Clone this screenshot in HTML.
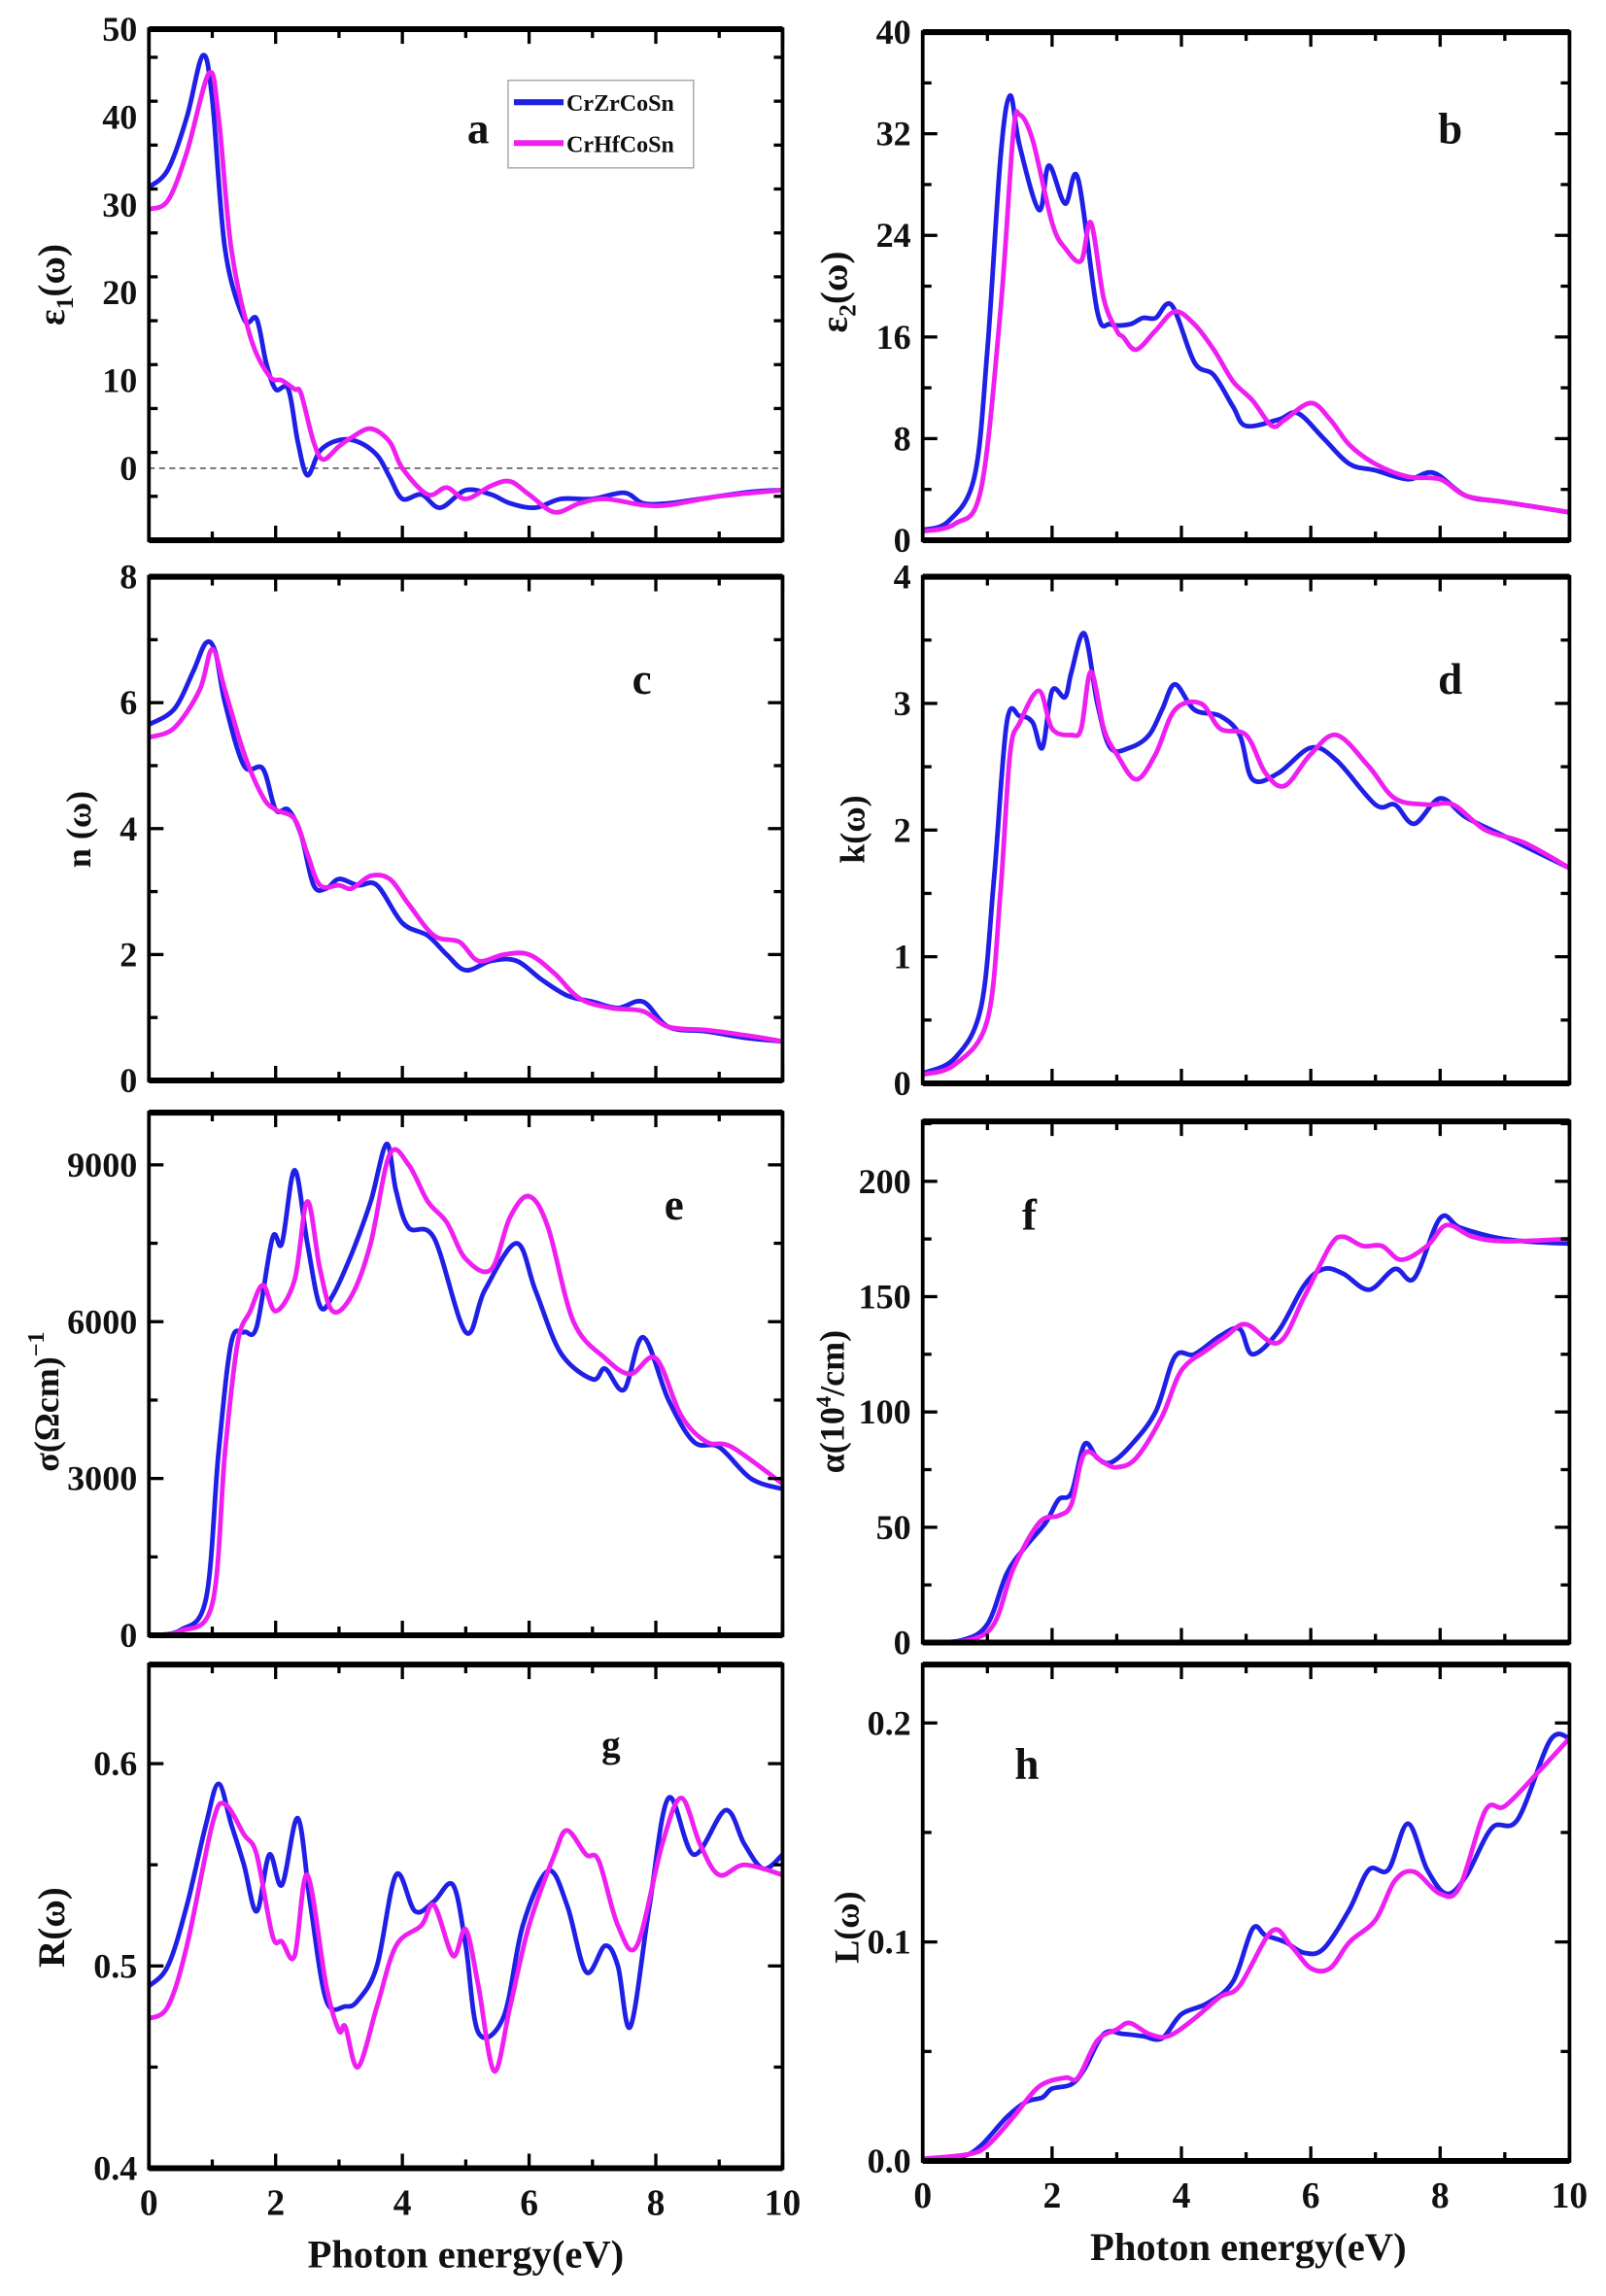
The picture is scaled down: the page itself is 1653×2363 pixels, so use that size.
<!DOCTYPE html>
<html><head><meta charset="utf-8"><style>
html,body{margin:0;padding:0;background:#fff}
svg{display:block}
text{font-family:"Liberation Serif",serif;font-weight:bold;fill:#111}
</style></head><body>
<svg id="s" width="1653" height="2363" viewBox="0 0 1100 1572.5" preserveAspectRatio="none" xmlns="http://www.w3.org/2000/svg"></svg>
<script>
const S=document.getElementById('s');let h='';
function P(L,R,T,B,y0,y1){return{L,R,T,B,y0,y1,x:v=>L+(R-L)*v/10,y:v=>B-(B-T)*(v-y0)/(y1-y0)};}
function path(p,d,c){const pts=d.map(q=>[p.x(q[0]),p.y(q[1])]);let s='M'+pts[0][0].toFixed(1)+' '+pts[0][1].toFixed(1);
for(let i=0;i<pts.length-1;i++){const p0=pts[i-1]||pts[i],p1=pts[i],p2=pts[i+1],p3=pts[i+2]||p2;
const c1=[p1[0]+(p2[0]-p0[0])/6,p1[1]+(p2[1]-p0[1])/6],c2=[p2[0]-(p3[0]-p1[0])/6,p2[1]-(p3[1]-p1[1])/6];
s+=`C${c1[0].toFixed(1)} ${c1[1].toFixed(1)} ${c2[0].toFixed(1)} ${c2[1].toFixed(1)} ${p2[0].toFixed(1)} ${p2[1].toFixed(1)}`;}
h+=`<path d="${s}" fill="none" stroke="${c}" stroke-width="3.2" stroke-linejoin="round"/>`;}
function frame(p,maj,mn,lab,xl){
 for(let v=0;v<=10;v+=1){const x=p.x(v),l=v%2==0?10:6;h+=`<line x1="${x}" y1="${p.B}" x2="${x}" y2="${p.B-l}" stroke="#000" stroke-width="2.2"/><line x1="${x}" y1="${p.T}" x2="${x}" y2="${p.T+l}" stroke="#000" stroke-width="2.2"/>`;
 if(xl&&v%2==0)h+=`<text x="${x}" y="${p.B+32}" font-size="25" text-anchor="middle">${v}</text>`;}
 for(let v=p.y0;v<=p.y1+1e-9;v+=mn){const y=p.y(v);if(y<p.T-1)continue;const isM=Math.abs(v/maj-Math.round(v/maj))<1e-6;const l=isM?10:6;
 h+=`<line x1="${p.L}" y1="${y}" x2="${p.L+l}" y2="${y}" stroke="#000" stroke-width="2.2"/><line x1="${p.R}" y1="${y}" x2="${p.R-l}" y2="${y}" stroke="#000" stroke-width="2.2"/>`;}
 lab.forEach(t=>{h+=`<text x="${p.L-8}" y="${p.y(t[0])+8}" font-size="24" text-anchor="end">${t[1]}</text>`;});
 h+=`<rect x="${p.L}" y="${p.T}" width="${p.R-p.L}" height="${p.B-p.T}" fill="none" stroke="#000" stroke-width="2.5"/>`;
 h+=`<line x1="${p.L}" y1="${p.T}" x2="${p.R}" y2="${p.T}" stroke="#000" stroke-width="4"/><line x1="${p.L}" y1="${p.B}" x2="${p.R}" y2="${p.B}" stroke="#000" stroke-width="4"/>`;}
const B='#1f1fe6',M='#ee1ff0';
// a
let a=P(102,536,20,370,-8.2,50);
h+=`<line x1="102" y1="${a.y(0)}" x2="536" y2="${a.y(0)}" stroke="#666" stroke-width="1.2" stroke-dasharray="4,3"/>`;
path(a,[[0,32],[0.3,34],[0.6,40],[0.85,47],[1.0,42],[1.2,25],[1.5,17],[1.7,17],[1.85,12],[2.0,9],[2.2,9],[2.35,3],[2.5,-0.8],[2.7,2],[3.0,3.2],[3.3,3],[3.6,1.5],[3.8,-1],[4.0,-3.5],[4.3,-3],[4.6,-4.5],[5.0,-2.5],[5.4,-3],[5.7,-4],[6.1,-4.5],[6.5,-3.5],[7.0,-3.5],[7.5,-2.8],[7.8,-4],[8.2,-4],[8.7,-3.5],[9.5,-2.7],[10,-2.5]],B);
path(a,[[0,29.5],[0.3,30.5],[0.6,36],[0.95,45],[1.1,40],[1.3,25],[1.6,15],[1.9,10.5],[2.1,10],[2.3,9],[2.4,8.5],[2.6,3],[2.75,1],[3.0,2.5],[3.2,3.5],[3.5,4.5],[3.8,3],[4.0,0],[4.4,-3],[4.7,-2.2],[5.0,-3.5],[5.4,-2],[5.7,-1.5],[6.0,-3],[6.4,-5],[6.8,-4],[7.2,-3.5],[7.8,-4.2],[8.2,-4.2],[9,-3.2],[10,-2.5]],M);
frame(a,10,5,[[0,'0'],[10,'10'],[20,'20'],[30,'30'],[40,'40'],[50,'50']],false);
h+=`<rect x="348" y="55" width="127" height="60" fill="#fff" stroke="#aaa" stroke-width="1"/><line x1="352" y1="70" x2="386" y2="70" stroke="${B}" stroke-width="4"/><line x1="352" y1="98" x2="386" y2="98" stroke="${M}" stroke-width="4"/><text x="388" y="76" font-size="16">CrZrCoSn</text><text x="388" y="104" font-size="16">CrHfCoSn</text>`;
h+=`<text x="320" y="98" font-size="30">a</text>`;
h+=`<text transform="translate(44,195) rotate(-90)" font-size="26" text-anchor="middle" font-weight="normal">ε<tspan font-size="17" dy="6">1</tspan><tspan dy="-6">(ω)</tspan></text>`;
// b
let b=P(632,1075,22,370,0,40);
path(b,[[0,0.8],[0.4,1.5],[0.8,5],[1.0,15],[1.2,30],[1.35,35],[1.5,31],[1.8,26],[1.95,29.5],[2.2,26.5],[2.4,28.5],[2.7,18],[2.9,17],[3.2,17],[3.4,17.5],[3.6,17.5],[3.85,18.5],[4.2,14],[4.5,13],[4.8,10.5],[5.0,9],[5.5,9.5],[5.8,10],[6.2,8],[6.6,6],[7.0,5.5],[7.5,4.8],[7.9,5.3],[8.4,3.5],[9,3],[10,2.2]],B);
path(b,[[0,0.7],[0.5,1.3],[0.9,4],[1.2,18],[1.4,32],[1.5,33.5],[1.7,31.5],[2.0,25],[2.2,23],[2.45,22],[2.6,25],[2.8,19],[3.0,16.5],[3.1,16],[3.3,15],[3.6,16.5],[3.9,18],[4.2,17],[4.5,15],[4.8,12.5],[5.1,11],[5.4,9],[5.6,9.5],[6.0,10.8],[6.3,9.5],[6.6,7.5],[7.0,6],[7.5,5],[8.0,4.8],[8.4,3.5],[9,3],[10,2.2]],M);
frame(b,8,4,[[0,'0'],[8,'8'],[16,'16'],[24,'24'],[32,'32'],[40,'40']],false);
h+=`<text x="985" y="98" font-size="30">b</text>`;
h+=`<text transform="translate(580,200) rotate(-90)" font-size="26" text-anchor="middle" font-weight="normal">ε<tspan font-size="17" dy="6">2</tspan><tspan dy="-6">(ω)</tspan></text>`;
// c
let c=P(102,536,395,740,0,8);
path(c,[[0,5.65],[0.4,5.9],[0.7,6.5],[0.9,6.95],[1.05,6.8],[1.2,6],[1.5,5],[1.8,4.95],[2.0,4.3],[2.2,4.3],[2.4,3.9],[2.6,3.1],[2.8,3.05],[3.0,3.2],[3.3,3.1],[3.6,3.1],[4.0,2.5],[4.4,2.3],[4.7,2.0],[5.0,1.75],[5.4,1.9],[5.8,1.9],[6.2,1.6],[6.6,1.35],[7.0,1.25],[7.4,1.15],[7.8,1.25],[8.2,0.85],[8.8,0.78],[9.4,0.68],[10,0.62]],B);
path(c,[[0,5.45],[0.4,5.6],[0.8,6.2],[1.0,6.85],[1.2,6.2],[1.5,5.2],[1.8,4.5],[2.0,4.3],[2.3,4.15],[2.5,3.6],[2.7,3.1],[3.0,3.1],[3.2,3.05],[3.5,3.25],[3.8,3.2],[4.1,2.8],[4.5,2.3],[4.9,2.2],[5.2,1.9],[5.6,2.0],[6.0,2.0],[6.4,1.7],[6.8,1.3],[7.3,1.15],[7.8,1.1],[8.2,0.85],[8.8,0.8],[9.4,0.72],[10,0.62]],M);
frame(c,2,1,[[0,'0'],[2,'2'],[4,'4'],[6,'6'],[8,'8']],false);
h+=`<text x="433" y="475" font-size="30">c</text>`;
h+=`<text transform="translate(62,568) rotate(-90)" font-size="24" text-anchor="middle">n (ω)</text>`;
// d
let d=P(632,1075,395,742,0,4);
path(d,[[0,0.08],[0.5,0.2],[0.9,0.6],[1.1,1.6],[1.3,2.85],[1.5,2.9],[1.7,2.85],[1.85,2.65],[2.0,3.1],[2.2,3.05],[2.3,3.25],[2.5,3.55],[2.7,3.0],[2.9,2.65],[3.2,2.65],[3.5,2.75],[3.7,2.95],[3.9,3.15],[4.2,2.95],[4.6,2.9],[4.9,2.75],[5.1,2.4],[5.5,2.45],[6.0,2.65],[6.4,2.55],[7.0,2.2],[7.3,2.2],[7.6,2.05],[8.0,2.25],[8.4,2.1],[9,1.95],[10,1.7]],B);
path(d,[[0,0.07],[0.5,0.15],[1.0,0.5],[1.2,1.5],[1.35,2.6],[1.5,2.85],[1.8,3.1],[2.0,2.8],[2.3,2.75],[2.45,2.8],[2.6,3.25],[2.8,2.8],[3.0,2.6],[3.3,2.4],[3.6,2.6],[3.9,2.95],[4.3,3.0],[4.6,2.8],[5.0,2.75],[5.3,2.45],[5.6,2.35],[6.0,2.6],[6.4,2.75],[6.9,2.5],[7.3,2.25],[7.8,2.2],[8.2,2.2],[8.7,2.0],[9.3,1.9],[10,1.7]],M);
frame(d,1,0.5,[[0,'0'],[1,'1'],[2,'2'],[3,'3'],[4,'4']],false);
h+=`<text x="985" y="475" font-size="30">d</text>`;
h+=`<text transform="translate(592,568) rotate(-90)" font-size="24" text-anchor="middle" font-weight="normal">k(ω)</text>`;
// e
let e=P(102,536,762,1120,0,10000);
path(e,[[0,0],[0.5,100],[0.9,700],[1.1,3500],[1.3,5600],[1.5,5800],[1.7,5900],[1.95,7600],[2.1,7500],[2.3,8900],[2.5,7500],[2.7,6300],[2.9,6500],[3.2,7300],[3.5,8300],[3.75,9400],[3.9,8500],[4.1,7800],[4.5,7600],[5.0,5800],[5.3,6600],[5.8,7500],[6.1,6600],[6.5,5400],[7.0,4900],[7.2,5100],[7.5,4700],[7.8,5700],[8.2,4500],[8.6,3700],[9.0,3600],[9.5,3000],[10,2800]],B);
path(e,[[0,0],[0.5,80],[1.0,600],[1.2,3500],[1.4,5600],[1.6,6200],[1.8,6700],[2.0,6200],[2.3,6800],[2.5,8300],[2.7,7000],[2.9,6200],[3.2,6500],[3.5,7500],[3.8,9200],[4.1,9000],[4.4,8300],[4.7,7900],[5.0,7200],[5.4,7000],[5.7,8000],[6.0,8400],[6.3,7800],[6.7,6000],[7.2,5300],[7.6,5000],[8.0,5300],[8.4,4200],[8.8,3700],[9.2,3600],[10,2900]],M);
frame(e,3000,1500,[[0,'0'],[3000,'3000'],[6000,'6000'],[9000,'9000']],false);
h+=`<text x="455" y="835" font-size="30">e</text>`;
h+=`<text transform="translate(40,960) rotate(-90)" font-size="24" text-anchor="middle" font-weight="normal">σ(Ωcm)<tspan font-size="16" dy="-10">−1</tspan></text>`;
// f
let f=P(632,1075,768,1125,0,226);
path(f,[[0,0],[0.6,1],[1.0,8],[1.3,30],[1.6,42],[1.9,52],[2.1,62],[2.3,65],[2.5,86],[2.7,80],[2.9,78],[3.2,85],[3.6,100],[3.9,124],[4.2,125],[4.6,133],[4.9,136],[5.1,125],[5.5,135],[5.9,155],[6.2,162],[6.5,160],[6.9,153],[7.3,162],[7.6,158],[8.0,184],[8.3,180],[8.8,176],[9.3,174],[10,173]],B);
path(f,[[0,0],[0.7,1],[1.1,8],[1.4,32],[1.8,52],[2.1,55],[2.3,60],[2.5,82],[2.8,78],[3.0,76],[3.3,80],[3.7,98],[4.0,118],[4.4,127],[4.7,133],[5.0,138],[5.5,130],[5.9,150],[6.3,172],[6.5,176],[6.8,172],[7.1,172],[7.4,166],[7.8,172],[8.1,181],[8.5,176],[9,174],[10,175]],M);
frame(f,50,25,[[0,'0'],[50,'50'],[100,'100'],[150,'150'],[200,'200']],false);
h+=`<text x="700" y="842" font-size="30">f</text>`;
h+=`<text transform="translate(578,960) rotate(-90)" font-size="24" text-anchor="middle" font-weight="normal">α(10<tspan font-size="15" dy="-9">4</tspan><tspan dy="9">/cm)</tspan></text>`;
// g
let g=P(102,536,1140,1485,0.4,0.649);
path(g,[[0,0.49],[0.3,0.5],[0.6,0.53],[0.9,0.57],[1.1,0.59],[1.3,0.57],[1.5,0.55],[1.7,0.527],[1.9,0.555],[2.1,0.54],[2.35,0.573],[2.55,0.53],[2.8,0.483],[3.1,0.48],[3.3,0.483],[3.6,0.5],[3.9,0.545],[4.2,0.527],[4.5,0.532],[4.8,0.54],[5.0,0.51],[5.2,0.467],[5.6,0.475],[5.9,0.52],[6.3,0.547],[6.6,0.53],[6.9,0.497],[7.2,0.51],[7.4,0.5],[7.6,0.47],[7.9,0.53],[8.2,0.583],[8.6,0.555],[9.1,0.577],[9.4,0.56],[9.7,0.548],[10,0.555]],B);
path(g,[[0,0.474],[0.3,0.48],[0.6,0.51],[1.0,0.57],[1.2,0.58],[1.5,0.565],[1.7,0.555],[1.95,0.515],[2.1,0.512],[2.3,0.505],[2.5,0.545],[2.8,0.49],[3.0,0.468],[3.1,0.47],[3.3,0.45],[3.6,0.48],[3.9,0.51],[4.3,0.52],[4.5,0.53],[4.8,0.505],[5.0,0.518],[5.2,0.49],[5.45,0.448],[5.7,0.48],[6.0,0.52],[6.4,0.555],[6.6,0.567],[6.9,0.555],[7.1,0.552],[7.4,0.52],[7.7,0.51],[8.1,0.56],[8.4,0.583],[8.7,0.56],[9.0,0.545],[9.4,0.55],[10,0.545]],M);
frame(g,0.1,0.05,[[0.4,'0.4'],[0.5,'0.5'],[0.6,'0.6']],true);
h+=`<text x="412" y="1203" font-size="26">g</text>`;
h+=`<text transform="translate(44,1320) rotate(-90)" font-size="26" text-anchor="middle">R(ω)</text>`;
h+=`<text x="319" y="1553" font-size="27" text-anchor="middle">Photon energy(eV)</text>`;
// h
let hh=P(632,1075,1140,1480,0,0.2267);
path(hh,[[0,0],[0.6,0.002],[0.9,0.007],[1.3,0.02],[1.6,0.027],[1.85,0.029],[2.0,0.033],[2.3,0.035],[2.5,0.042],[2.8,0.058],[3.1,0.058],[3.4,0.057],[3.7,0.056],[4.0,0.067],[4.4,0.072],[4.8,0.082],[5.1,0.106],[5.3,0.103],[5.6,0.1],[5.9,0.095],[6.2,0.097],[6.6,0.115],[6.9,0.133],[7.2,0.133],[7.5,0.154],[7.8,0.133],[8.1,0.122],[8.4,0.13],[8.8,0.152],[9.2,0.156],[9.7,0.192],[10,0.193]],B);
path(hh,[[0,0.001],[0.7,0.003],[1.0,0.007],[1.4,0.02],[1.8,0.034],[2.2,0.038],[2.4,0.038],[2.7,0.055],[3.0,0.06],[3.2,0.063],[3.5,0.058],[3.8,0.057],[4.2,0.065],[4.6,0.075],[4.9,0.08],[5.4,0.105],[5.7,0.098],[6.0,0.088],[6.3,0.088],[6.6,0.1],[7.0,0.11],[7.3,0.128],[7.6,0.132],[8.0,0.122],[8.3,0.125],[8.7,0.16],[9.0,0.162],[9.5,0.177],[10,0.193]],M);
frame(hh,0.1,0.05,[[0,'0.0'],[0.1,'0.1'],[0.2,'0.2']],true);
h+=`<text x="695" y="1218" font-size="30">h</text>`;
h+=`<text transform="translate(588,1320) rotate(-90)" font-size="24" text-anchor="middle" font-weight="normal">L(ω)</text>`;
h+=`<text x="855" y="1548" font-size="27" text-anchor="middle">Photon energy(eV)</text>`;
S.innerHTML=h;
</script>
</body></html>
